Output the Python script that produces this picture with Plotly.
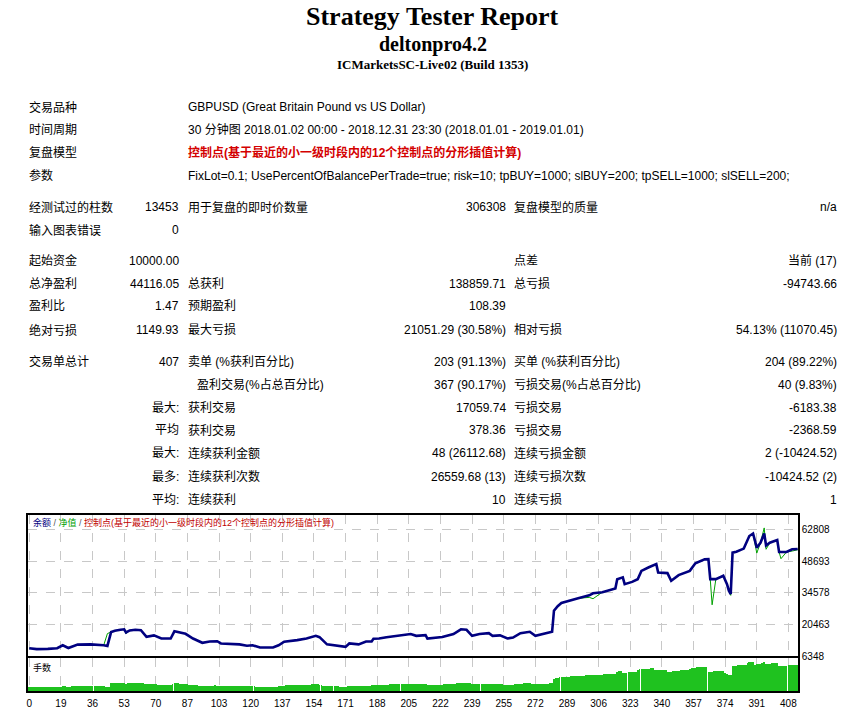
import plotly.graph_objects as go

W, H = 864, 710

# --- report header ---
title = "Strategy Tester Report"
expert = "deltonpro4.2"
server = "ICMarketsSC-Live02 (Build 1353)"

# --- settings block ---
info_labels = ["交易品种", "时间周期", "复盘模型", "参数"]
info_values = [
    "GBPUSD (Great Britain Pound vs US Dollar)",
    "30 分钟图 2018.01.02 00:00 - 2018.12.31 23:30 (2018.01.01 - 2019.01.01)",
    "控制点(基于最近的小一级时段内的12个控制点的分形插值计算)",
    "FixLot=0.1; UsePercentOfBalancePerTrade=true; risk=10; tpBUY=1000; slBUY=200; tpSELL=1000; slSELL=200;",
]

# --- results block: label1, value1, label2, value2, label3, value3 ---
stats_rows = [
    ("经测试过的柱数", "13453", "用于复盘的即时价数量", "306308", "复盘模型的质量", "n/a"),
    ("输入图表错误", "0", "", "", "", ""),
    ("起始资金", "10000.00", "", "", "点差", "当前 (17)"),
    ("总净盈利", "44116.05", "总获利", "138859.71", "总亏损", "-94743.66"),
    ("盈利比", "1.47", "预期盈利", "108.39", "", ""),
    ("绝对亏损", "1149.93", "最大亏损", "21051.29 (30.58%)", "相对亏损", "54.13% (11070.45)"),
    ("交易单总计", "407", "卖单 (%获利百分比)", "203 (91.13%)", "买单 (%获利百分比)", "204 (89.22%)"),
    ("", "", "盈利交易(%占总百分比)", "367 (90.17%)", "亏损交易(%占总百分比)", "40 (9.83%)"),
    ("", "最大:", "获利交易", "17059.74", "亏损交易", "-6183.38"),
    ("", "平均", "获利交易", "378.36", "亏损交易", "-2368.59"),
    ("", "最大:", "连续获利金额", "48 (26112.68)", "连续亏损金额", "2 (-10424.52)"),
    ("", "最多:", "连续获利次数", "26559.68 (13)", "连续亏损次数", "-10424.52 (2)"),
    ("", "平均:", "连续获利", "10", "连续亏损", "1"),
]

# --- balance / equity curve (trade number -> account value) ---
trade_pts = [0, 4, 10, 15, 18, 21, 26, 33, 40, 42, 44, 46, 49, 51, 52, 54, 57, 60, 63, 67,
             71, 76, 78, 81, 84, 88, 93, 97, 101, 103, 110, 113, 117, 120, 124, 131, 134, 137, 144, 149,
             154, 156, 160, 165, 170, 172, 177, 181, 184, 185, 188, 192, 199, 205, 208, 213, 214, 222, 228, 232,
             235, 238, 242, 247, 249, 253, 257, 260, 264, 269, 272, 275, 281, 282, 284, 286, 292, 295, 301, 303,
             308, 315, 316, 319, 320, 324, 327, 329, 333, 337, 338, 343, 345, 349, 355, 358, 363, 365, 366, 367,
             369, 373, 375, 376, 377, 378, 380, 384, 387, 389, 391, 393, 395, 396, 398, 402, 403, 404, 407, 410,
             413]
balance = [10000, 9600, 9700, 10000, 11300, 10100, 11600, 11700, 11300, 11000, 17200, 17800, 18200, 18400, 17000, 17900, 18200, 18000, 15100, 15700,
           14300, 14300, 17500, 16900, 16400, 14300, 12400, 13000, 13100, 12100, 11700, 11700, 11100, 11300, 10300, 10300, 11300, 12900, 13600, 14300,
           15500, 14900, 11700, 11300, 10600, 12100, 11700, 13000, 13000, 14200, 14300, 14900, 15500, 16300, 15500, 15800, 14300, 15000, 16300, 18400,
           18200, 15500, 16300, 16700, 15500, 15700, 14300, 14700, 16700, 17300, 15500, 16100, 17300, 26700, 28700, 30100, 31600, 32200, 33500, 34400,
           34900, 36600, 40700, 41500, 38500, 39500, 40700, 44400, 46000, 47400, 43700, 43400, 40000, 42500, 44400, 47800, 49500, 49600, 40700, 40700,
           40700, 42200, 38500, 35600, 34100, 52500, 52900, 54300, 59900, 61000, 54700, 56900, 61000, 55700, 56900, 58100, 52800, 52800, 52800, 54000,
           54116]
equity = [10000, 9600, 9700, 10000, 11300, 10100, 11600, 11700, 11300, 16500, 17200, 17800, 18200, 18400, 16500, 17900, 18200, 18000, 15100, 15700,
          14300, 14300, 17500, 16900, 16400, 14300, 12400, 13000, 13100, 12100, 11700, 11700, 11100, 11300, 10300, 10300, 11300, 12900, 13600, 14300,
          15500, 14900, 11700, 11300, 10600, 12100, 11700, 13000, 13000, 14200, 14300, 14900, 15500, 16300, 15500, 15800, 14300, 15000, 16300, 18400,
          18200, 15500, 16300, 16700, 15500, 15700, 14300, 14700, 16700, 17300, 15500, 16100, 17300, 26700, 28700, 30100, 31600, 32200, 32600, 32000,
          34900, 36600, 40700, 41500, 38500, 39500, 40700, 44400, 46000, 47400, 43700, 43400, 40000, 42500, 44400, 47800, 49500, 49600, 40700, 29300,
          40700, 42200, 38500, 35600, 33500, 52500, 52900, 54300, 59900, 61000, 52300, 56900, 63500, 54000, 56900, 58100, 52800, 49800, 52800, 53200,
          53800]

# --- lot size per trade (trades 0..413) ---
lots = [
    5.0, 5.0, 4.9, 4.8, 4.8, 4.8, 4.9, 4.9, 4.9, 4.9, 4.9, 4.9, 5.0, 5.0, 5.0, 5.0, 5.0,
    5.0, 5.6, 5.7, 5.1, 5.2, 5.4, 5.6, 5.7, 5.8, 5.8, 5.8, 5.8, 5.8, 5.9, 5.9, 5.8, 5.8,
    5.8, 5.8, 5.8, 5.7, 5.7, 5.6, 5.6, 5.5, 5.5, 5.5, 8.6, 8.7, 8.9, 9.0, 9.0, 9.1, 9.1,
    9.2, 8.5, 8.9, 9.0, 9.1, 9.1, 9.1, 9.0, 9.0, 9.0, 8.6, 8.0, 7.6, 7.6, 7.7, 7.8, 7.9,
    7.7, 7.5, 7.3, 7.2, 7.2, 7.2, 7.1, 7.2, 7.2, 8.2, 8.8, 8.7, 8.6, 8.5, 8.4, 8.3, 8.2,
    7.9, 7.5, 7.3, 7.2, 6.8, 6.6, 6.4, 6.3, 6.2, 6.3, 6.4, 6.5, 6.5, 6.5, 6.5, 6.6, 6.5,
    6.3, 6.1, 6.0, 6.0, 5.9, 5.9, 5.9, 5.9, 5.9, 5.9, 5.9, 5.8, 5.7, 5.6, 5.6, 5.6, 5.6,
    5.6, 5.7, 5.6, 5.4, 5.3, 5.2, 5.2, 5.1, 5.1, 5.1, 5.1, 5.2, 5.2, 5.3, 5.5, 5.7, 6.1,
    6.3, 6.5, 6.6, 6.7, 6.7, 6.8, 6.8, 6.8, 6.9, 7.0, 7.0, 7.1, 7.1, 7.2, 7.3, 7.4, 7.6,
    7.7, 7.8, 7.7, 7.5, 6.9, 6.3, 6.0, 5.9, 5.8, 5.8, 5.7, 5.7, 5.7, 5.6, 5.5, 5.4, 5.3,
    5.3, 6.0, 6.0, 5.9, 5.9, 5.9, 5.9, 5.9, 6.1, 6.3, 6.5, 6.5, 6.5, 6.5, 7.1, 7.1, 7.1,
    7.2, 7.2, 7.2, 7.3, 7.4, 7.5, 7.5, 7.6, 7.6, 7.7, 7.7, 7.7, 7.8, 7.9, 7.9, 8.0, 8.0,
    8.1, 8.1, 8.0, 7.9, 7.7, 7.8, 7.8, 7.9, 7.9, 7.9, 7.2, 7.2, 7.3, 7.3, 7.4, 7.4, 7.5,
    7.5, 7.5, 7.6, 7.7, 7.8, 7.9, 8.0, 8.1, 8.4, 8.7, 8.9, 9.2, 9.2, 9.2, 9.1, 9.1, 9.0,
    7.8, 7.9, 8.0, 8.1, 8.1, 8.2, 8.3, 8.3, 8.3, 8.3, 7.8, 7.8, 7.8, 7.8, 7.9, 7.9, 7.6,
    7.4, 7.2, 7.2, 7.3, 7.3, 7.4, 7.6, 7.9, 8.2, 8.4, 8.5, 8.6, 8.6, 8.7, 8.7, 8.0, 7.8,
    7.7, 7.9, 8.0, 8.1, 8.2, 8.3, 8.4, 8.5, 8.6, 8.7, 13.4, 13.9, 14.3, 14.7, 15.0, 15.1, 15.3,
    15.4, 15.5, 15.7, 15.8, 15.9, 16.0, 16.1, 16.3, 16.4, 16.5, 16.6, 16.7, 16.8, 16.9, 17.2, 17.3, 17.4,
    17.4, 17.5, 17.5, 17.6, 17.7, 17.8, 17.9, 18.0, 18.2, 18.3, 20.3, 20.6, 20.8, 19.5, 19.3, 19.5, 19.7,
    19.8, 20.2, 20.3, 20.3, 22.2, 22.8, 22.9, 23.0, 23.1, 23.3, 23.5, 23.6, 23.7, 21.8, 21.8, 21.7, 21.7,
    21.7, 21.6, 21.6, 20.0, 20.2, 20.5, 20.8, 21.0, 21.3, 21.5, 21.7, 22.0, 22.2, 22.3, 22.4, 23.5, 23.9,
    24.2, 24.5, 24.7, 24.8, 24.8, 24.8, 24.8, 24.8, 20.4, 20.4, 20.4, 20.6, 20.8, 21.0, 21.1, 21.2, 21.0,
    19.3, 17.8, 17.1, 17.1, 26.3, 26.4, 26.5, 26.7, 26.9, 27.0, 27.2, 27.5, 28.6, 30.0, 30.3, 30.5, 27.4,
    27.6, 28.0, 28.5, 29.0, 30.5, 27.9, 28.2, 28.5, 28.8, 29.0, 29.0, 29.0, 26.4, 26.4, 26.4, 26.4, 26.5,
    26.6, 26.8, 27.0, 27.1, 27.1, 27.1,
]
trade_no = list(range(len(lots)))

y_ticks = [6348, 20463, 34578, 48693, 62808]
x_tick_labels = ["0", "19", "36", "53", "70", "87", "103", "120", "137", "154", "171", "188", "205",
                 "222", "239", "255", "272", "289", "306", "323", "340", "357", "374", "391", "408"]

FONT = "Liberation Sans, Noto Sans CJK SC, sans-serif"
SERIF = "Liberation Serif, DejaVu Serif, serif"
NAVY = "#000080"
GREEN = "#00a000"
RED = "#d40000"
GRID = "#c8c8c8"


def px(x, y):
    return x / W, 1 - y / H


annotations = []


def note(text, x, y, anchor="left", size=12, color="#000", family=FONT):
    ax, ay = px(x, y)
    annotations.append(dict(x=ax, y=ay, xref="paper", yref="paper", text=text, showarrow=False,
                            xanchor=anchor, yanchor="middle", borderpad=0,
                            font=dict(size=size, color=color, family=family)))


note("<b>" + title + "</b>", 432, 17, "center", 26, "#000", SERIF)
note("<b>" + expert + "</b>", 432, 45, "center", 20, "#000", SERIF)
note("<b>" + server + "</b>", 432, 65, "center", 13, "#000", SERIF)

info_y = [108, 131, 154, 177]
for i, (lab, val) in enumerate(zip(info_labels, info_values)):
    note(lab, 27, info_y[i])
    if i == 2:
        note("<b>" + val + "</b>", 186, info_y[i], color=RED)
    else:
        note(val, 186, info_y[i])

stats_y = [209, 232, 263, 286, 309, 333, 365, 388, 411, 434, 457, 481, 504]
for i, row in enumerate(stats_rows):
    y = stats_y[i]
    l1, v1, l2, v2, l3, v3 = row
    note(l1, 27, y)
    note(v1, 179, y, "right")
    note(l2, 195 if l2.startswith("盈利交易") else 186, y)
    note(v2, 507, y, "right")
    note(l3, 513, y)
    note(v3, 838, y, "right")

note('<span style="color:%s">余额</span> / <span style="color:%s">净值</span> / '
     '<span style="color:%s">控制点(基于最近的小一级时段内的12个控制点的分形插值计算)</span>' % (NAVY, GREEN, "#c00000"),
     31, 527, size=9, color="#555")
note("手数", 31, 673, size=9)

fig = go.Figure()

fig.add_trace(go.Bar(x=trade_no, y=lots, marker_color="#1fc21f", marker_line_width=0,
                     width=0.45, xaxis="x", yaxis="y2"))
fig.add_trace(go.Scatter(x=trade_pts, y=equity, mode="lines", line=dict(color=GREEN, width=1),
                         xaxis="x2", yaxis="y"))
fig.add_trace(go.Scatter(x=trade_pts, y=balance, mode="lines", line=dict(color=NAVY, width=2.6),
                         xaxis="x2", yaxis="y"))

x0, x1 = 27 / W, 798 / W
frame = dict(showline=True, mirror=True, linecolor="black", linewidth=1.5, zeroline=False)
xgrid = dict(showgrid=True, gridcolor=GRID, griddash="dash", gridwidth=1,
             tickvals=[17 * i for i in range(len(x_tick_labels))], range=[-0.7, 413.2])

fig.update_layout(
    width=W, height=H, autosize=False,
    margin=dict(l=0, r=0, t=0, b=0),
    paper_bgcolor="white", plot_bgcolor="white",
    showlegend=False, bargap=0,
    annotations=annotations,
    xaxis=dict(domain=[x0, x1], anchor="y2", ticktext=x_tick_labels, ticks="",
               ticklabelstandoff=2,
               tickfont=dict(size=10, family=FONT, color="black"), **xgrid, **frame),
    xaxis2=dict(domain=[x0, x1], anchor="y", matches="x", showticklabels=False, ticks="",
                **xgrid, **frame),
    yaxis=dict(domain=[1 - 662 / H, 1 - 519 / H], anchor="x2", side="right",
               range=[6348, 69416], tickvals=y_ticks, tickformat="d", ticks="",
               tickfont=dict(size=10, family=FONT, color="black"),
               showgrid=True, gridcolor=GRID, griddash="dash", **frame),
    yaxis2=dict(domain=[1 - 697 / H, 1 - 664 / H], anchor="x", range=[1.3, 34],
                showticklabels=False, showgrid=False, ticks="", **frame),
)

fig.write_html("out.html", config={"displayModeBar": False},
               post_script="document.body.style.margin = '0px';")
